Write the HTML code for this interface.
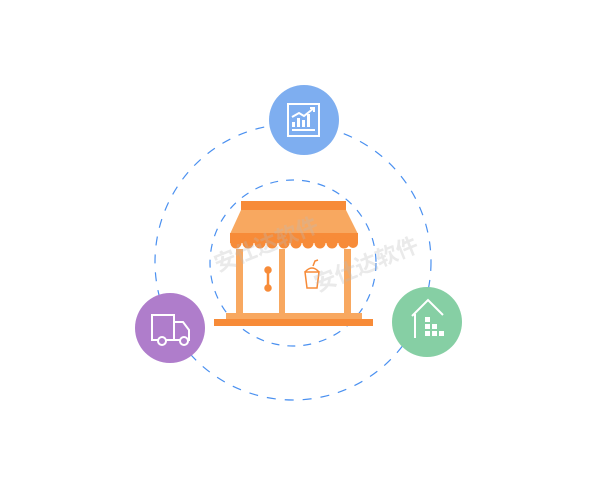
<!DOCTYPE html>
<html><head><meta charset="utf-8"><style>
html,body{margin:0;padding:0;background:#fff;width:600px;height:500px;overflow:hidden}
</style></head><body>
<svg width="600" height="500" viewBox="0 0 600 500" xmlns="http://www.w3.org/2000/svg">
<circle cx="293" cy="262" r="138" fill="none" stroke="#4a90f0" stroke-width="1.2" stroke-dasharray="9 9"/>
<circle cx="293" cy="263" r="83" fill="none" stroke="#4a90f0" stroke-width="1.2" stroke-dasharray="8 8"/>
<rect x="241" y="201" width="105" height="9" fill="#f78b38"/>
<polygon points="241,210 346,210 358,234 230,234" fill="#f8a860"/>
<rect x="230" y="233" width="128" height="10" fill="#f78b38"/>
<g fill="#f78b38">
<circle cx="236" cy="243" r="5.5"/><circle cx="248" cy="243" r="5.5"/><circle cx="260" cy="243" r="5.5"/><circle cx="272" cy="243" r="5.5"/><circle cx="284" cy="243" r="5.5"/><circle cx="296" cy="243" r="5.5"/><circle cx="308" cy="243" r="5.5"/><circle cx="320" cy="243" r="5.5"/><circle cx="332" cy="243" r="5.5"/><circle cx="344" cy="243" r="5.5"/><circle cx="353" cy="243" r="5"/>
</g>
<g fill="#f8a860">
<rect x="236" y="249" width="7" height="65"/><rect x="279" y="249" width="6" height="65"/><rect x="344" y="249" width="7" height="65"/>
<rect x="226" y="313" width="136" height="7"/>
</g>
<rect x="214" y="319" width="159" height="7" fill="#f78b38"/>
<g stroke="#f78b38" stroke-width="2.5" fill="#f78b38"><line x1="268" y1="271" x2="268" y2="287"/><circle cx="268" cy="270" r="2.5"/><circle cx="268" cy="288" r="2.5"/></g>
<g stroke="#f78b38" stroke-width="1.5" fill="none"><path d="M305,272 h14 l-2,16 h-10 z"/><path d="M305,272 q7,-8 14,0"/><path d="M313,266 l2,-5 l3,-1"/></g>
<g fill="#bbb" opacity="0.3" font-family="Liberation Sans,'Noto Sans CJK SC',sans-serif" font-size="22" font-weight="bold">
<text transform="translate(218,272) rotate(-22)">安仕达软件</text>
<text transform="translate(318,292) rotate(-22)">安仕达软件</text>
</g>
<circle cx="304" cy="120" r="35" fill="#7eaef0"/>
<g stroke="#fff" stroke-width="2" fill="none"><rect x="288" y="104" width="31" height="32"/><path d="M292,117 l7,-4 l5,3 l10,-8"/><path d="M310,108 h4 v4"/><line x1="292" y1="130" x2="315" y2="130"/></g>
<g fill="#fff"><rect x="292" y="122" width="3" height="5"/><rect x="297" y="118" width="3" height="9"/><rect x="302" y="120" width="3" height="7"/><rect x="307" y="114" width="3" height="13"/></g>
<circle cx="170" cy="328" r="35" fill="#af7dcb"/>
<g stroke="#fff" stroke-width="2" fill="none"><path d="M152,315 h22 v25 h-22 z"/><path d="M174,322 h9 l6,8 v10 h-15"/><circle cx="162" cy="341" r="4" fill="#af7dcb"/><circle cx="184" cy="341" r="4" fill="#af7dcb"/></g>
<circle cx="427" cy="322" r="35" fill="#86cfa4"/>
<g stroke="#fff" stroke-width="2" fill="none"><path d="M412,316 l16,-16 l15,15"/><path d="M415,314 v24"/></g>
<g fill="#fff"><rect x="425" y="317" width="5" height="5"/><rect x="425" y="324" width="5" height="5"/><rect x="432" y="324" width="5" height="5"/><rect x="425" y="331" width="5" height="5"/><rect x="432" y="331" width="5" height="5"/><rect x="439" y="331" width="5" height="5"/></g>
</svg>
</body></html>
